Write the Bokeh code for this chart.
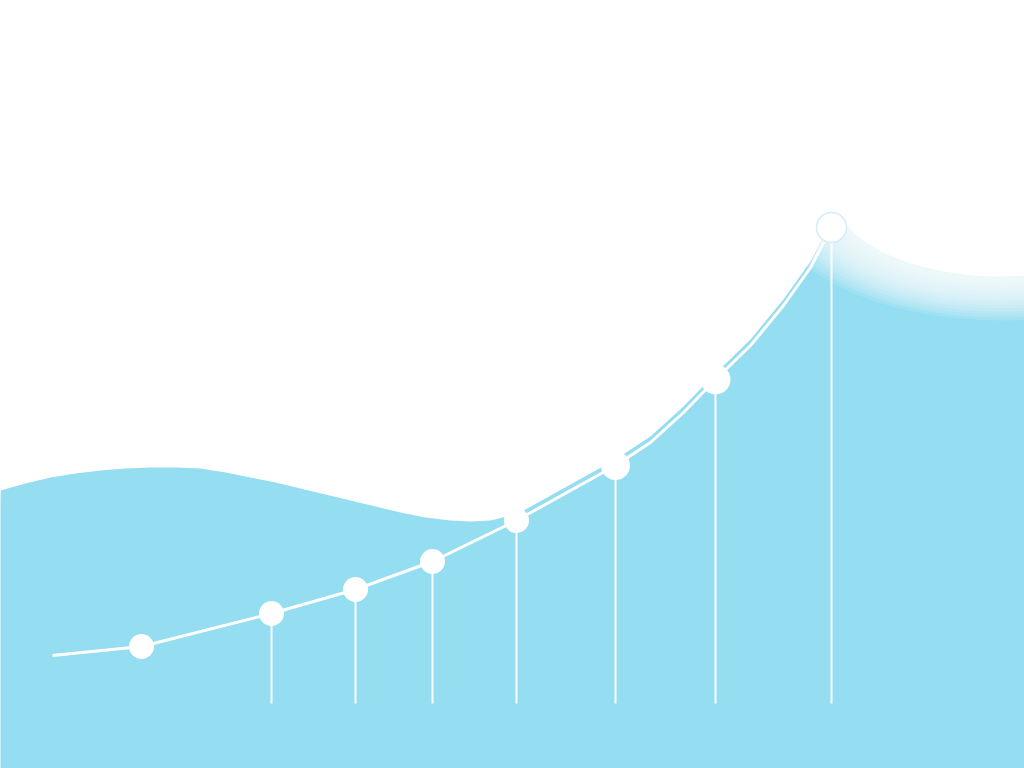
from bokeh.plotting import figure
from bokeh.models import Range1d
from bokeh.embed import file_html
from bokeh.resources import INLINE

point_x = [141, 271, 355, 432, 516, 615, 715, 831]
point_val = [122, 155, 179, 207, 248, 303, 389, 541]
marker_size = [25, 25, 25, 25, 25, 29, 30, 30]
line_start_x = 52
line_start_val = 113
stem_base = 65

# extra positions of the curved line between the upper points
bend_x = [650, 683, 750, 783, 810]
bend_val = [326, 356, 423, 463, 501]

# decorative wave forming the top of the blue field (left part)
wave_x = [0, 25, 50, 75, 100, 125, 150, 175, 200, 225, 250, 275, 300, 325, 350,
          375, 400, 425, 450, 470, 490, 510]
wave_val = [278, 285, 291, 295, 298, 300, 301, 301, 300, 296, 291, 286, 280, 274, 268,
            262, 256, 251, 248, 247, 248, 253]

BLUE = "#95DDF1"

p = figure(width=1024, height=768, x_range=Range1d(0, 1024), y_range=Range1d(0, 768),
           output_backend="svg", toolbar_location=None, min_border=0)
p.axis.visible = False
p.grid.visible = False
p.outline_line_color = None
p.background_fill_color = "white"
p.border_fill_color = "white"

# path of the line: start, points and bends, ordered by x
path = sorted(zip([line_start_x] + point_x + bend_x,
                  [line_start_val] + point_val + bend_val))
path_x = [a for a, b in path]
path_y = [b for a, b in path]

# blue field: wave on the left, then hugging the line, then the right edge
upper = [(a, b) for a, b in path if a >= 516]
top_x = wave_x + [a for a, b in upper] + [1040]
top_y = wave_val + [b + 6 for a, b in upper] + [point_val[-1] + 6]
area_x = top_x + [1040, -10]
area_y = top_y + [-10, -10]
p.patch(area_x, area_y, fill_color=BLUE, line_color=None)

# soft white glow at the top right
glow_cx, glow_cy = 1000, 573
for i in range(14):
    w = 470 - i * 10
    h = 250 - i * 6
    p.ellipse(x=glow_cx, y=glow_cy, width=w, height=h, fill_color="white",
              fill_alpha=0.13, line_color=None)
p.ellipse(x=glow_cx, y=glow_cy, width=330, height=162, fill_color="white",
          fill_alpha=1.0, line_color=None)

# stems
p.segment(x0=point_x[1:], y0=point_val[1:], x1=point_x[1:], y1=[stem_base] * 7,
          line_color="white", line_width=2, line_alpha=0.95)

# line
p.line(path_x, path_y, line_color="white", line_width=3, line_join="round")

# markers
p.scatter(point_x[:-1], point_val[:-1], size=marker_size[:-1], fill_color="white",
          line_color=None)
p.scatter([point_x[-1]], [point_val[-1]], size=marker_size[-1], fill_color="white",
          line_color="#d3edf6", line_width=1.5)

open("out.html", "w").write(file_html(p, INLINE))
